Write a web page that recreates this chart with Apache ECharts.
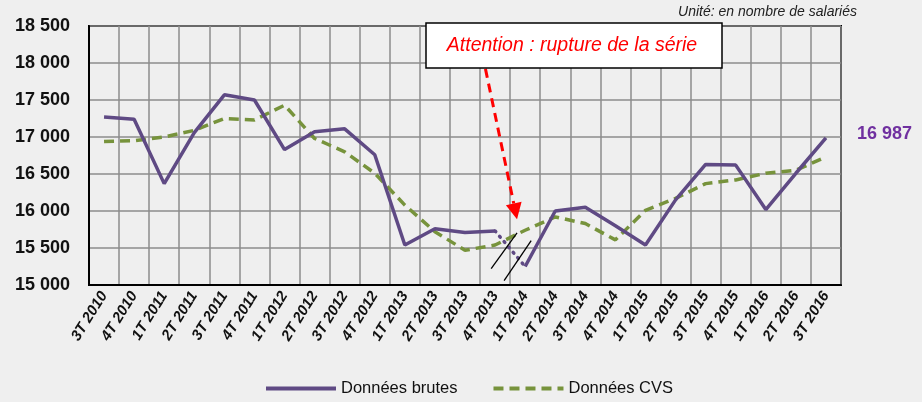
<!DOCTYPE html>
<html>
<head>
<meta charset="utf-8">
<script src="https://cdn.jsdelivr.net/npm/echarts@6/dist/echarts.min.js"></script>
<style>
html,body{margin:0;padding:0;background:#efefef;}
#main{width:922px;height:402px;}
</style>
</head>
<body>
<div id="main"></div>
<script>
var categories = ['3T 2010','4T 2010','1T 2011','2T 2011','3T 2011','4T 2011','1T 2012','2T 2012','3T 2012','4T 2012','1T 2013','2T 2013','3T 2013','4T 2013','1T 2014','2T 2014','3T 2014','4T 2014','1T 2015','2T 2015','3T 2015','4T 2015','1T 2016','2T 2016','3T 2016'];
var brutes = [17270,17240,16370,17060,17570,17500,16830,17070,17110,16760,15540,15760,15710,15730,15250,16000,16050,15800,15540,16150,16630,16620,16020,16510,16987];
var cvs = [16940,16950,17000,17090,17250,17230,17430,16980,16800,16510,16080,15720,15470,15540,15740,15920,15830,15610,16010,16170,16370,16420,16510,16550,16730];
var breakIndex = 13; // rupture between 4T 2013 and 1T 2014
var yMin = 15000, yMax = 18500, yStep = 500;

var purple = '#5f4a84', green = '#77933c';
function fmt(v){ return String(v).replace(/\B(?=(\d{3})+(?!\d))/g,' '); }

var part1 = brutes.map(function(v,i){ return i<=breakIndex ? v : null; });
var part2 = brutes.map(function(v,i){ return i < breakIndex+1 ? null : v; });
var gap = brutes.map(function(v,i){ return (i===breakIndex||i===breakIndex+1) ? v : null; });

var chart = echarts.init(document.getElementById('main'));
chart.setOption({
  backgroundColor:'#efefef',
  animation:false,
  grid:{left:89, right:81, top:26, bottom:117, show:true, borderColor:'#000', borderWidth:2, backgroundColor:'transparent'},
  legend:{
    data:['Données brutes','Données CVS'], bottom:0, left:259, itemWidth:70, itemHeight:4, itemGap:34,
    lineStyle:{width:4},
    textStyle:{fontFamily:'Liberation Sans', fontSize:16.5, color:'#111'}
  },
  xAxis:{
    type:'category', data:categories, boundaryGap:true,
    axisLine:{lineStyle:{color:'#000', width:2}},
    axisTick:{show:false},
    splitLine:{show:true, lineStyle:{color:'#8c8c8c', width:1.5}},
    axisLabel:{rotate:58, margin:8, interval:0, fontFamily:'Liberation Sans', fontWeight:'bold', fontStyle:'italic', fontSize:15, color:'#111'}
  },
  yAxis:{
    type:'value', min:yMin, max:yMax, interval:yStep,
    axisLine:{show:true, lineStyle:{color:'#000', width:2}},
    axisTick:{show:false},
    splitLine:{show:true, lineStyle:{color:'#8c8c8c', width:1.5}},
    axisLabel:{margin:19, formatter:fmt, fontFamily:'Liberation Sans', fontWeight:'bold', fontSize:18, color:'#111'}
  },
  series:[
    {name:'Données brutes', type:'line', data:part1, showSymbol:false, symbol:'none', color:purple, lineStyle:{color:purple, width:3.5}, z:3},
    {name:'Données brutes', type:'line', data:part2, showSymbol:false, symbol:'none', color:purple, lineStyle:{color:purple, width:3.5}, z:3,
      endLabel:{show:true, distance:31, formatter:function(p){return fmt(p.value);}, color:'#7030a0', fontWeight:'bold', fontSize:18, fontFamily:'Liberation Sans', offset:[0,-4]}},
    {name:'rupture', type:'line', data:gap, showSymbol:false, symbol:'none', color:purple, lineStyle:{color:purple, width:3.5, type:[1,6], cap:'round'}, z:3},
    {name:'Données CVS', type:'line', data:cvs, showSymbol:false, symbol:'none', color:green, lineStyle:{color:green, width:3.5, type:[10,6]}, z:2}
  ]
});

// annotations placed relative to the axes
function px(idx, val){
  var a = chart.convertToPixel({gridIndex:0},[Math.floor(idx), val]);
  var b = chart.convertToPixel({gridIndex:0},[Math.floor(idx)+1, val]);
  var f = idx - Math.floor(idx);
  return [a[0] + (b[0]-a[0])*f, a[1]];
}
var s1a = px(breakIndex-0.13, 15220), s1b = px(breakIndex+0.73, 15705);
var s2a = px(breakIndex+0.30, 15060), s2b = px(breakIndex+1.20, 15600);
var arA = px(breakIndex-0.32, 17920), arB = px(breakIndex+0.73, 15890);
var dx = arB[0]-arA[0], dy = arB[1]-arA[1], L = Math.sqrt(dx*dx+dy*dy);
var ux = dx/L, uy = dy/L, hl = 16, hw = 8;
var base = [arB[0]-ux*hl, arB[1]-uy*hl];
chart.setOption({
  graphic:[
    {type:'line', shape:{x1:s1a[0], y1:s1a[1], x2:s1b[0], y2:s1b[1]}, style:{stroke:'#000', lineWidth:1.3}, z:10},
    {type:'line', shape:{x1:s2a[0], y1:s2a[1], x2:s2b[0], y2:s2b[1]}, style:{stroke:'#000', lineWidth:1.3}, z:10},
    {type:'line', shape:{x1:arA[0], y1:arA[1], x2:base[0], y2:base[1]}, style:{stroke:'#ff0000', lineWidth:3, lineDash:[9,6]}, z:10},
    {type:'polygon', shape:{points:[[arB[0],arB[1]],[base[0]-uy*hw, base[1]+ux*hw],[base[0]+uy*hw, base[1]-ux*hw]]}, style:{fill:'#ff0000'}, z:10},
    {type:'rect', shape:{x:426, y:23, width:296, height:45}, style:{fill:'#ffffff', stroke:'#000', lineWidth:1.5}, z:11},
    {type:'text', x:572, y:46, style:{text:'Attention : rupture de la série', fill:'#ff0000', font:'italic 19.5px "Liberation Sans"', textAlign:'center', textVerticalAlign:'middle'}, z:12},
    {type:'text', x:857, y:12, style:{text:'Unité: en nombre de salariés', fill:'#222', font:'italic 14px "Liberation Sans"', textAlign:'right', textVerticalAlign:'middle'}, z:12}
  ]
});
</script>
</body>
</html>
